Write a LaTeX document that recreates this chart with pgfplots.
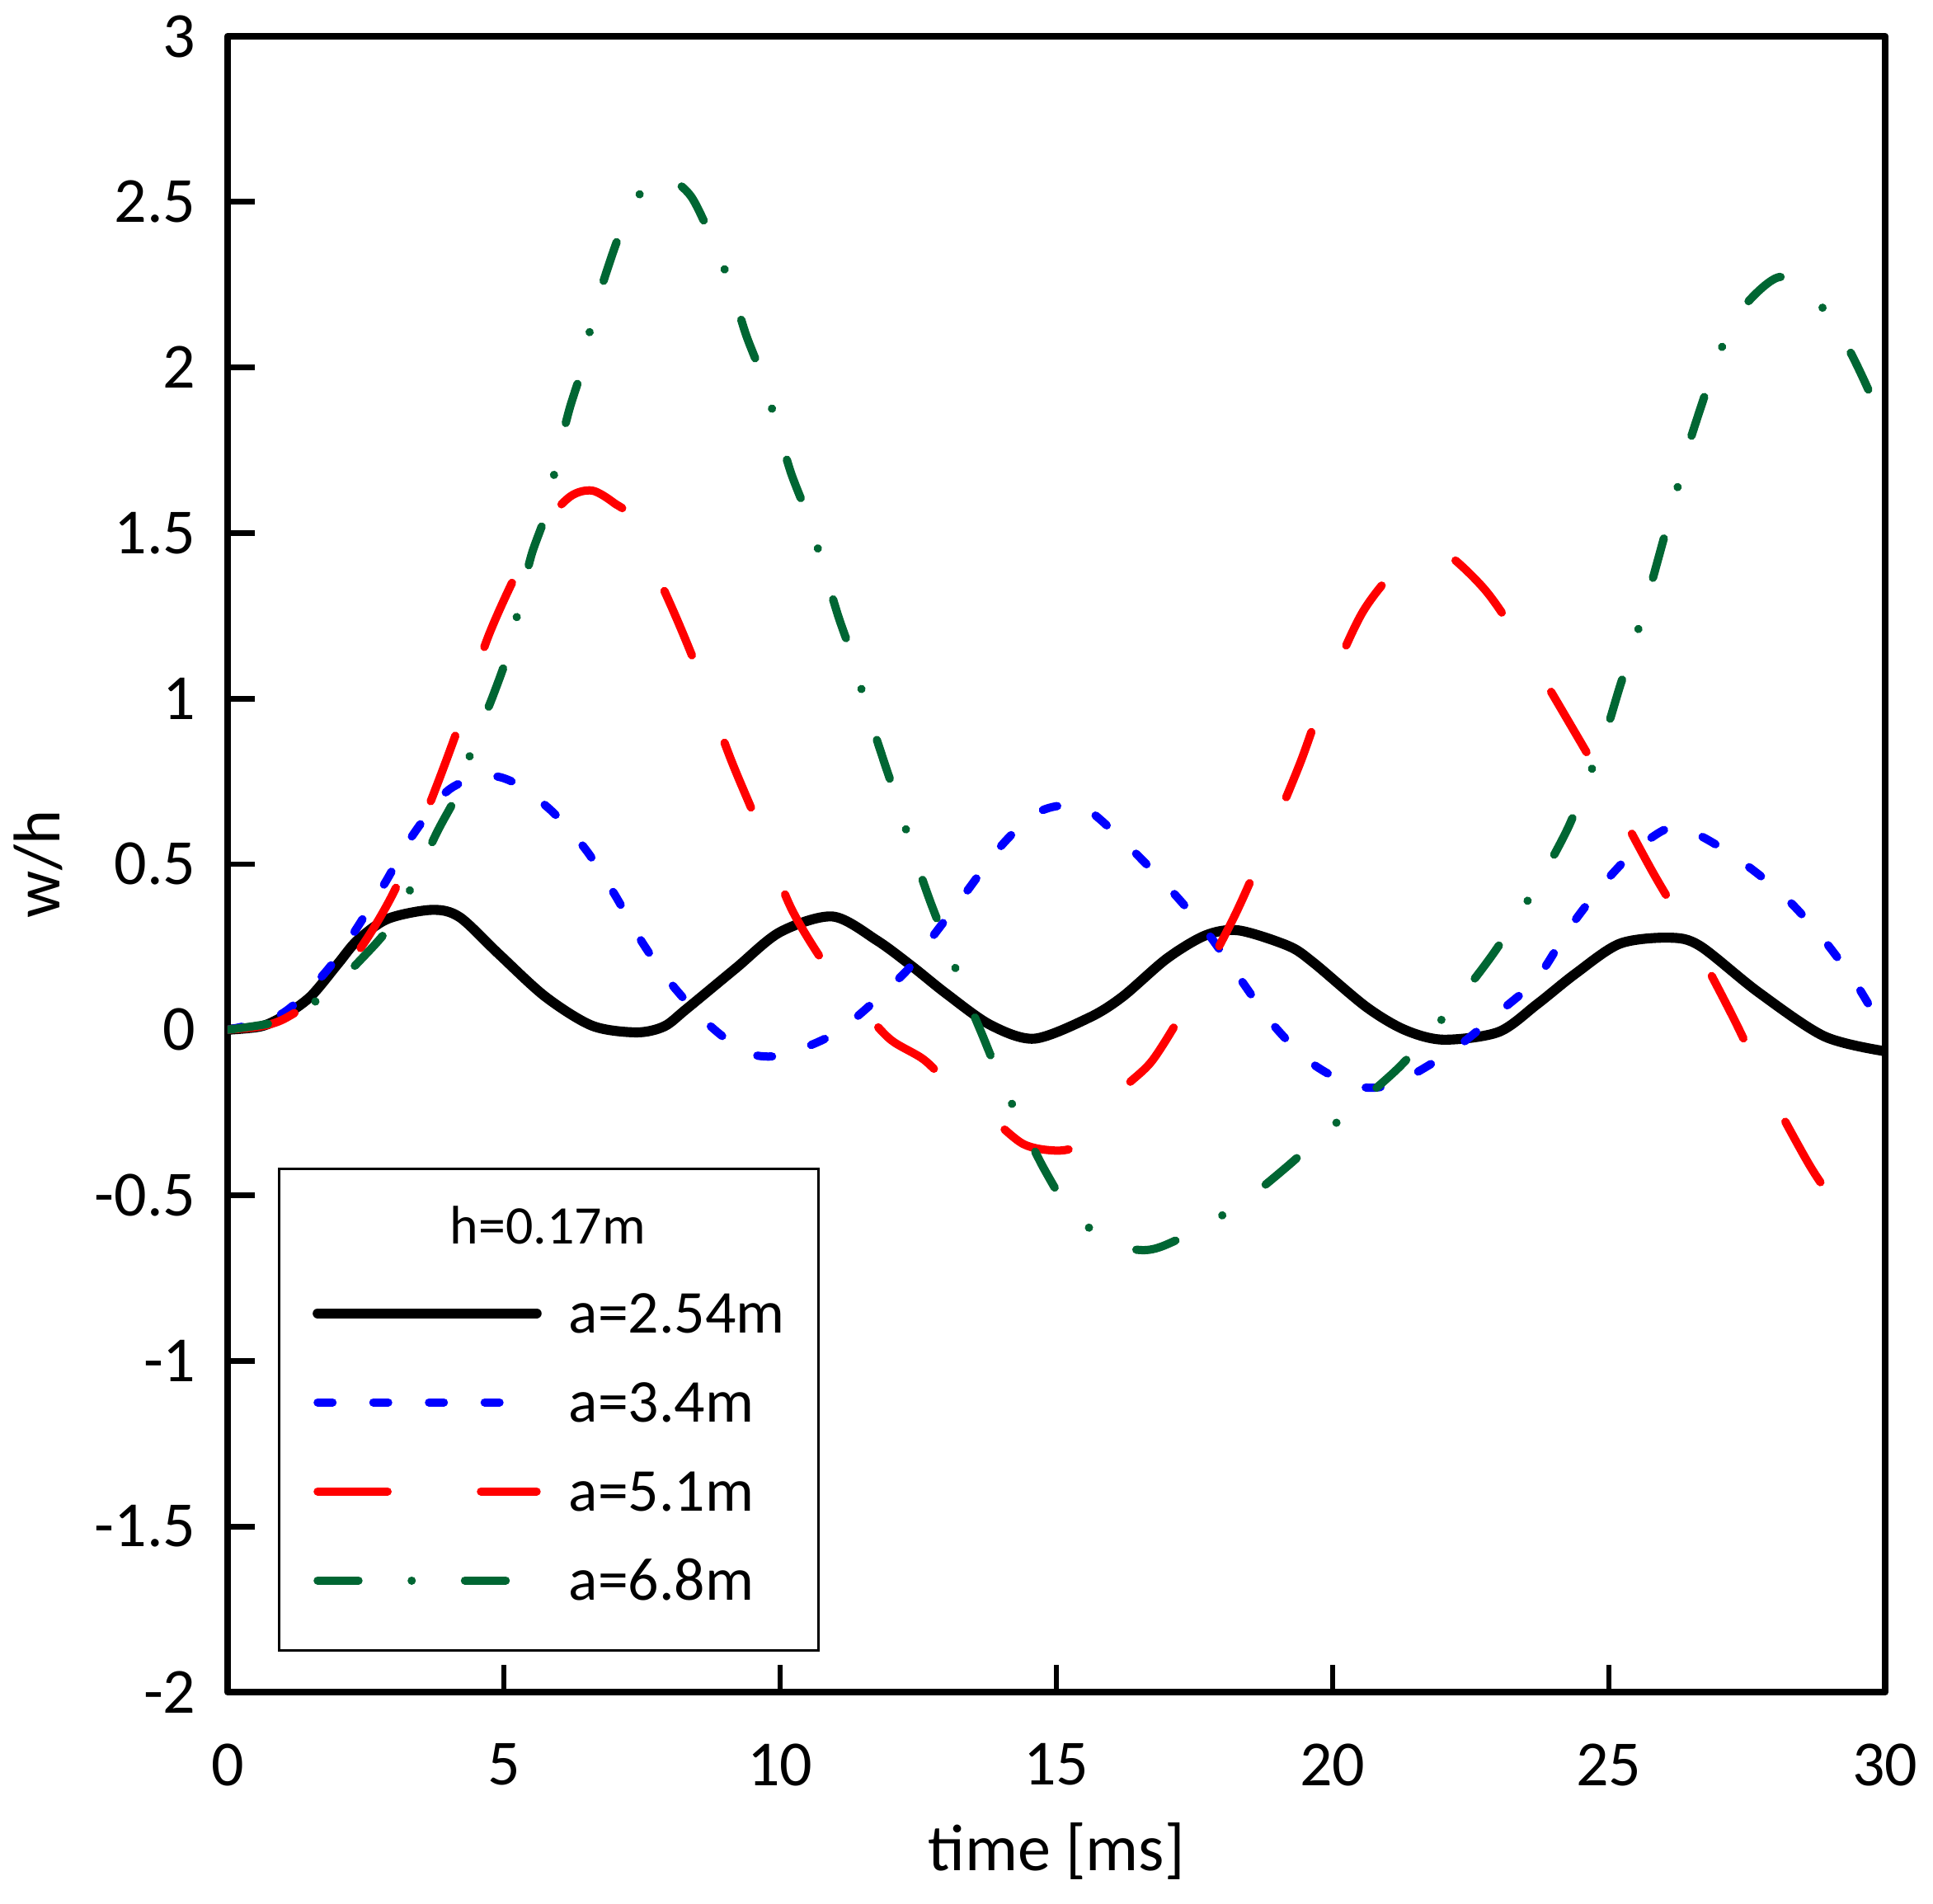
\documentclass[border=0pt]{standalone}
\usepackage{fontspec}
\setmainfont{Carlito}
\usepackage{pgfplots}
\pgfplotsset{compat=1.18}

\definecolor{dgreen}{RGB}{0,102,51}

\begin{document}
\begin{tikzpicture}
\useasboundingbox (-1.84cm,-1.713cm) rectangle (13.787cm,13.68cm);
\begin{axis}[
    at={(0,0)}, anchor=south west,
    scale only axis,
    width=13.40cm, height=13.387cm,
    xmin=0, xmax=30, ymin=-2, ymax=3,
    xtick={0,5,10,15,20,25,30},
    xticklabels={0,5,10,15,20,25,30},
    ytick={-2,-1.5,-1,-0.5,0,0.5,1,1.5,2,2.5,3},
    yticklabels={-2,-1.5,-1,-0.5,0,0.5,1,1.5,2,2.5,3},
    /pgf/number format/assume math mode=true,
    tick align=inside, tick pos=left,
    major tick length=0.22cm,
    major tick style={line width=1.3pt, black},
    axis line style={line width=1.6pt, line join=round},
    ticklabel style={font=\fontsize{14.8}{17}\selectfont},
    yticklabel style={inner sep=0pt, xshift=-0.25cm},
    xticklabel style={inner sep=0pt, yshift=-0.41cm},
    xlabel={time [ms]},
    ylabel={w/h},
    label style={font=\fontsize{15.2}{18}\selectfont},
    x label style={at={(axis description cs:0.5,-0.0963)}, anchor=center},
    y label style={at={(axis description cs:-0.1140,0.5)}, anchor=center},
    legend image code/.code={\draw[#1] (0cm,0cm) -- (1.77cm,0cm);},
    legend cell align=left,
    legend style={at={(rel axis cs:0.0304,0.0244)}, anchor=south west,
      draw=black, line width=0.6pt,
      inner xsep=0.27cm, inner ysep=0.385cm,
      row sep=0.36cm, column sep=0.22cm,
      font=\fontsize{14}{16}\selectfont,
      nodes={inner sep=0pt, text height=0.34cm, text depth=0.02cm}},
    every axis plot/.append style={line cap=round, line join=round, smooth, tension=0.5},
]

\addlegendimage{empty legend}
\addlegendentry[text height=0.22cm, text depth=0.02cm]{\hspace*{-0.96cm}\fontsize{12.5}{14}\selectfont h=0.17m}

% a = 2.54 m
\addplot[black, line width=2.3pt] coordinates {
(0,0) (0.6,0.01) (1.0,0.04) (1.5,0.10) (2.0,0.20) (2.35,0.27) (2.9,0.335)
(3.7,0.362) (4.2,0.34) (4.9,0.23) (5.75,0.10) (6.6,0.012) (7.4,-0.008)
(7.9,0.01) (8.3,0.062) (9.2,0.186) (10.0,0.295) (10.95,0.342) (11.75,0.27)
(12.4,0.19) (13.0,0.11) (13.8,0.015) (14.6,-0.027) (15.6,0.037) (16.2,0.10)
(17.0,0.215) (17.7,0.285) (18.3,0.30) (19.2,0.253) (19.65,0.203) (20.6,0.07)
(21.3,0.0) (22.0,-0.03) (23.0,-0.007) (23.7,0.077) (24.4,0.17) (25.2,0.26)
(26.1,0.278) (26.65,0.253) (27.7,0.114) (28.9,-0.02) (30,-0.065)
};
\addlegendentry{a=2.54m}

% a = 3.4 m
\addplot[blue, line width=1.9pt, dash pattern=on 0.12cm off 0.33cm] coordinates {
(0,0) (1.0,0.05) (1.9,0.2) (2.8,0.43) (3.3,0.575) (3.95,0.717) (4.5,0.762)
(4.9,0.764) (5.3,0.735) (5.9,0.655) (6.5,0.54) (7.0,0.41) (7.5,0.265)
(8.0,0.145) (8.5,0.05) (8.9,-0.012) (9.4,-0.07) (9.9,-0.08) (10.5,-0.05)
(11.0,-0.01) (11.5,0.055) (12.3,0.18) (12.8,0.29) (13.3,0.40) (14.0,0.555)
(14.6,0.65) (15.1,0.677) (15.6,0.66) (16.3,0.555) (17.0,0.435) (17.7,0.30)
(18.3,0.16) (18.9,0.02) (19.5,-0.085) (20.0,-0.14) (20.5,-0.172) (20.9,-0.172)
(21.4,-0.14) (22.1,-0.07) (22.5,-0.02) (23.1,0.065) (23.7,0.155) (24.3,0.31)
(24.9,0.44) (25.5,0.545) (26.1,0.61) (26.6,0.59) (27.3,0.52) (28.1,0.415)
(28.8,0.29) (29.45,0.145) (30,-0.01)
};
\addlegendentry{a=3.4m}

% a = 5.1 m
\addplot[red, line width=1.9pt, dash pattern=on 0.565cm off 0.755cm] coordinates {
(0,0) (0.6,0.01) (1.05,0.035) (1.7,0.11) (2.4,0.245) (3.05,0.43) (3.7,0.70)
(4.2,0.925) (4.7,1.18) (5.25,1.385) (5.7,1.52) (6.2,1.61) (6.6,1.628)
(7.0,1.59) (7.3,1.54) (8.0,1.29) (8.5,1.09) (9.1,0.82) (9.6,0.62) (10.2,0.367)
(10.9,0.176) (11.5,0.06) (12.0,-0.03) (12.6,-0.09) (13.1,-0.17) (13.75,-0.255)
(14.4,-0.345) (15.0,-0.365) (15.4,-0.35) (15.75,-0.29) (16.2,-0.18)
(16.75,-0.09) (17.45,0.10) (18.2,0.335) (18.75,0.54) (19.4,0.80) (19.85,1.005)
(20.55,1.263) (21.35,1.424) (21.9,1.455) (22.75,1.33) (23.5,1.146)
(24.35,0.908) (25.0,0.72) (25.8,0.474) (26.5,0.275) (27.25,0.037)
(27.85,-0.17) (28.6,-0.40) (29.0,-0.50) (29.45,-0.59)
};
\addlegendentry{a=5.1m}

% a = 6.8 m
\addplot[dgreen, line width=1.9pt, dash pattern=on 0.33cm off 0.43cm on 0.01pt off 0.43cm] coordinates {
(0,0) (1.05,0.03) (1.7,0.10) (2.4,0.21) (3.05,0.34) (3.78,0.593) (4.17,0.717)
(4.45,0.861) (4.8,1.007) (5.08,1.139) (5.29,1.288) (5.5,1.434) (5.78,1.568)
(5.96,1.72) (6.18,1.87) (6.42,2.00) (6.61,2.15) (6.88,2.30) (7.19,2.44)
(7.64,2.566) (8.0,2.57) (8.39,2.516) (8.76,2.39) (9.1,2.25) (9.38,2.10)
(9.68,1.97) (9.95,1.82) (10.2,1.68) (10.5,1.55) (10.78,1.40) (11.05,1.25)
(11.32,1.12) (11.57,0.97) (11.86,0.82) (12.12,0.69) (12.4,0.54) (12.7,0.395)
(13.0,0.265) (13.32,0.12) (13.67,-0.02) (14.0,-0.154) (14.39,-0.29)
(14.79,-0.424) (15.27,-0.55) (15.98,-0.643) (16.5,-0.665) (16.9,-0.655)
(17.64,-0.596) (18.43,-0.514) (19.17,-0.414) (19.78,-0.323) (20.5,-0.218)
(21.2,-0.114) (21.78,-0.007) (22.35,0.107) (22.9,0.228) (23.39,0.352)
(23.85,0.48) (24.27,0.613) (24.6,0.749) (24.93,0.89) (25.2,1.037)
(25.46,1.169) (25.72,1.318) (25.97,1.469) (26.19,1.603) (26.42,1.752)
(26.7,1.898) (26.97,2.03) (27.37,2.169) (28.09,2.273) (28.75,2.203)
(29.27,2.077) (29.69,1.935) (30,1.806)
};
\addlegendentry{a=6.8m}

\end{axis}
\end{tikzpicture}
\end{document}
